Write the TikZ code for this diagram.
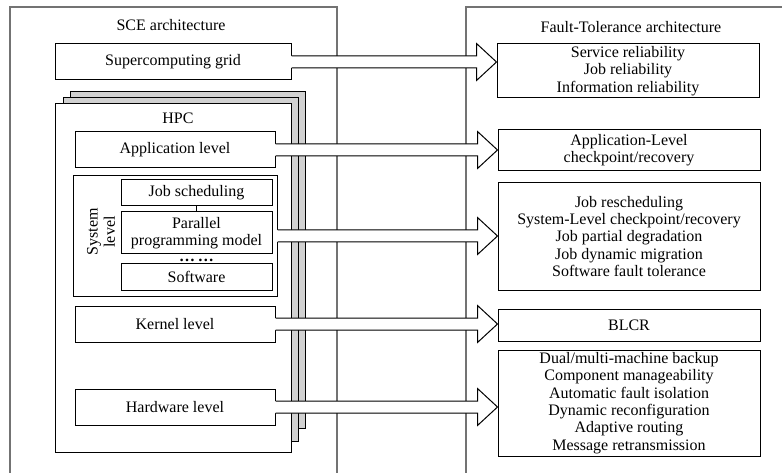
\documentclass[tikz,border=0pt]{standalone}
\usepackage{fontspec}
\setmainfont{Liberation Serif}
\usetikzlibrary{calc}

\begin{document}
\begin{tikzpicture}[x=1pt, y=-1pt, line width=1pt,
  box/.style={draw, fill=white, align=center, inner sep=0pt, font=\fontsize{16}{17.3}\selectfont},
  label/.style={align=center, inner sep=0pt, font=\fontsize{16}{17.3}\selectfont},
  frame/.style={draw=black!55, line width=1.3pt},
  layer/.style={draw, fill=black!18}]
\useasboundingbox (0,0) rectangle (782,473);

% 外框
\draw[frame] (10,490) -- (10,7) -- (337,7) -- (337,490);
\draw[frame] (466,490) -- (466,7) -- (800,7);
\node[label] (sce) at (171,25) {SCE architecture};
\node[label] (ft) at (631,27) {Fault-Tolerance architecture};

\node[box, minimum width=236, minimum height=36] (grid) at (173,62) {Supercomputing grid};

% HPC 叠层
\draw[layer] (70,92) rectangle (305,428);
\draw[layer] (63,98) rectangle (298,441);
\draw[fill=white] (55,104) rectangle (291,452);
\node[label] (hpc) at (178,118) {HPC};

\node[box, minimum width=200, minimum height=36] (app) at (175,150) {Application level};
\node[box, minimum width=204, minimum height=120] (sys) at (175,236) {};
\node[label, rotate=90] (syslbl) at (101,232) {System\\level};
\node[box, minimum width=151, minimum height=26] (js) at (196.5,193) {Job scheduling};
\node[box, minimum width=151, minimum height=42] (ppm) at (196.5,233) {Parallel\\programming model};
\node[label, text height=3pt, text depth=0pt, anchor=base] (dots) at (196.5,261.5) {\textbf{…\,…}};
\node[box, minimum width=151, minimum height=26] (sw) at (196.5,277) {Software};
\draw (js) -- (ppm);
\node[box, minimum width=200, minimum height=36] (kern) at (175,324) {Kernel level};
\node[box, minimum width=200, minimum height=36] (hw) at (175,407) {Hardware level};

% 右侧
\node[box, minimum width=262, minimum height=54] (sr) at (628,71)
  {Service reliability\\Job reliability\\Information reliability};
\node[box, minimum width=262, minimum height=41] (apr) at (629,150.5)
  {Application-Level\\checkpoint/recovery};
\node[box, minimum width=262, minimum height=107] (jr) at (629,236.5)
  {Job rescheduling\\System-Level checkpoint/recovery\\Job partial degradation\\Job dynamic migration\\Software fault tolerance};
\node[box, minimum width=262, minimum height=32] (blcr) at (629,325) {BLCR};
\node[box, minimum width=262, minimum height=106] (dual) at (629,403)
  {Dual/multi-machine backup\\Component manageability\\Automatic fault isolation\\Dynamic reconfiguration\\Adaptive routing\\Message retransmission};

% 空心箭头
\foreach \s/\t in {grid/sr, app/apr, sys/jr, kern/blcr, hw/dual}{
  \coordinate (tip) at (\t.west |- \s.east);
  \fill[white] ($(\s.east)+(-0.5,-6)$) -- ($(tip)+(-20,-6)$) -- ($(tip)+(-20,-18.5)$) -- (tip)
    -- ($(tip)+(-20,18.5)$) -- ($(tip)+(-20,6)$) -- ($(\s.east)+(-0.5,6)$) -- cycle;
  \draw ($(\s.east)+(0,-6)$) -- ($(tip)+(-20,-6)$) -- ($(tip)+(-20,-18.5)$) -- (tip)
    -- ($(tip)+(-20,18.5)$) -- ($(tip)+(-20,6)$) -- ($(\s.east)+(0,6)$);
}
\end{tikzpicture}
\end{document}
